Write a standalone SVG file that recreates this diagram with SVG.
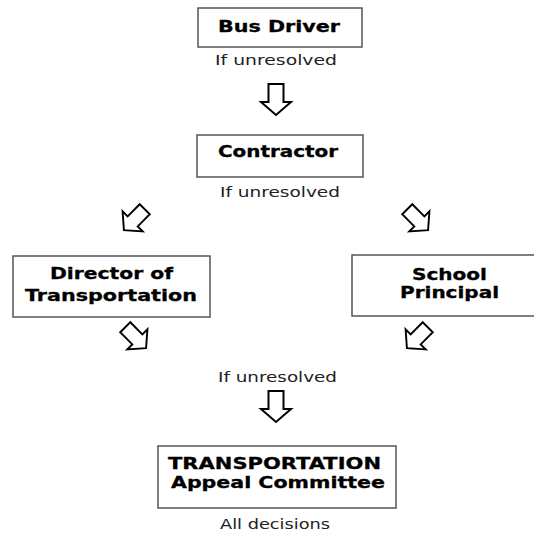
<svg xmlns="http://www.w3.org/2000/svg" width="534" height="533" viewBox="0 0 534 533">
<defs>
<style>
.box{fill:#fff;stroke:#555;stroke-width:1.5}
.b{font-family:"DejaVu Sans",Verdana,sans-serif;font-weight:bold;font-size:16px;fill:#000;stroke:#000;stroke-width:0.3;text-anchor:middle}
.r{font-family:"DejaVu Sans",Verdana,sans-serif;font-size:14.5px;fill:#222;text-anchor:middle}
.arr{fill:#fff;stroke:#000;stroke-width:2;stroke-linejoin:miter}
</style>
<path id="ar" d="M-7.5,-16 L7.5,-16 L7.5,2 L15,2 L0,15 L-15,2 L-7.5,2 Z"/>
</defs>
<rect width="534" height="533" fill="#fff"/>
<g id="connectors">
<use href="#ar" class="arr" transform="translate(276,100)"/>
<use href="#ar" class="arr" transform="translate(134,220) rotate(45) scale(0.95)"/>
<use href="#ar" class="arr" transform="translate(418,220) rotate(-45) scale(0.95)"/>
<use href="#ar" class="arr" transform="translate(136,338) rotate(-45) scale(0.95)"/>
<use href="#ar" class="arr" transform="translate(417,338) rotate(45) scale(0.95)"/>
<use href="#ar" class="arr" transform="translate(276,407)"/>
</g>
<g id="busdriver">
<rect class="box" x="198" y="8" width="164" height="39"/>
<text class="b" x="279" y="32" textLength="122" lengthAdjust="spacingAndGlyphs">Bus Driver</text>
</g>
<text class="r" x="276" y="65" textLength="122" lengthAdjust="spacingAndGlyphs">If unresolved</text>
<g id="contractor">
<rect class="box" x="197" y="135" width="166" height="42"/>
<text class="b" x="278" y="157" textLength="120" lengthAdjust="spacingAndGlyphs">Contractor</text>
</g>
<text class="r" x="280" y="197" textLength="120" lengthAdjust="spacingAndGlyphs">If unresolved</text>
<g id="director">
<rect class="box" x="13" y="256" width="197" height="61"/>
<text class="b" x="111.5" y="279" textLength="123" lengthAdjust="spacingAndGlyphs">Director of</text>
<text class="b" x="111" y="301" textLength="172" lengthAdjust="spacingAndGlyphs">Transportation</text>
</g>
<g id="principal">
<rect class="box" x="352" y="255" width="200" height="61"/>
<text class="b" x="449.5" y="280" textLength="75" lengthAdjust="spacingAndGlyphs">School</text>
<text class="b" x="449.5" y="298" textLength="99" lengthAdjust="spacingAndGlyphs">Principal</text>
</g>
<text class="r" x="277.5" y="382" textLength="119" lengthAdjust="spacingAndGlyphs">If unresolved</text>
<g id="committee">
<rect class="box" x="158" y="446" width="238" height="62"/>
<text class="b" x="274.5" y="469" textLength="213" lengthAdjust="spacingAndGlyphs">TRANSPORTATION</text>
<text class="b" x="278" y="488" textLength="214" lengthAdjust="spacingAndGlyphs">Appeal Committee</text>
</g>
<text class="r" x="275" y="529" textLength="110" lengthAdjust="spacingAndGlyphs">All decisions</text>
</svg>
